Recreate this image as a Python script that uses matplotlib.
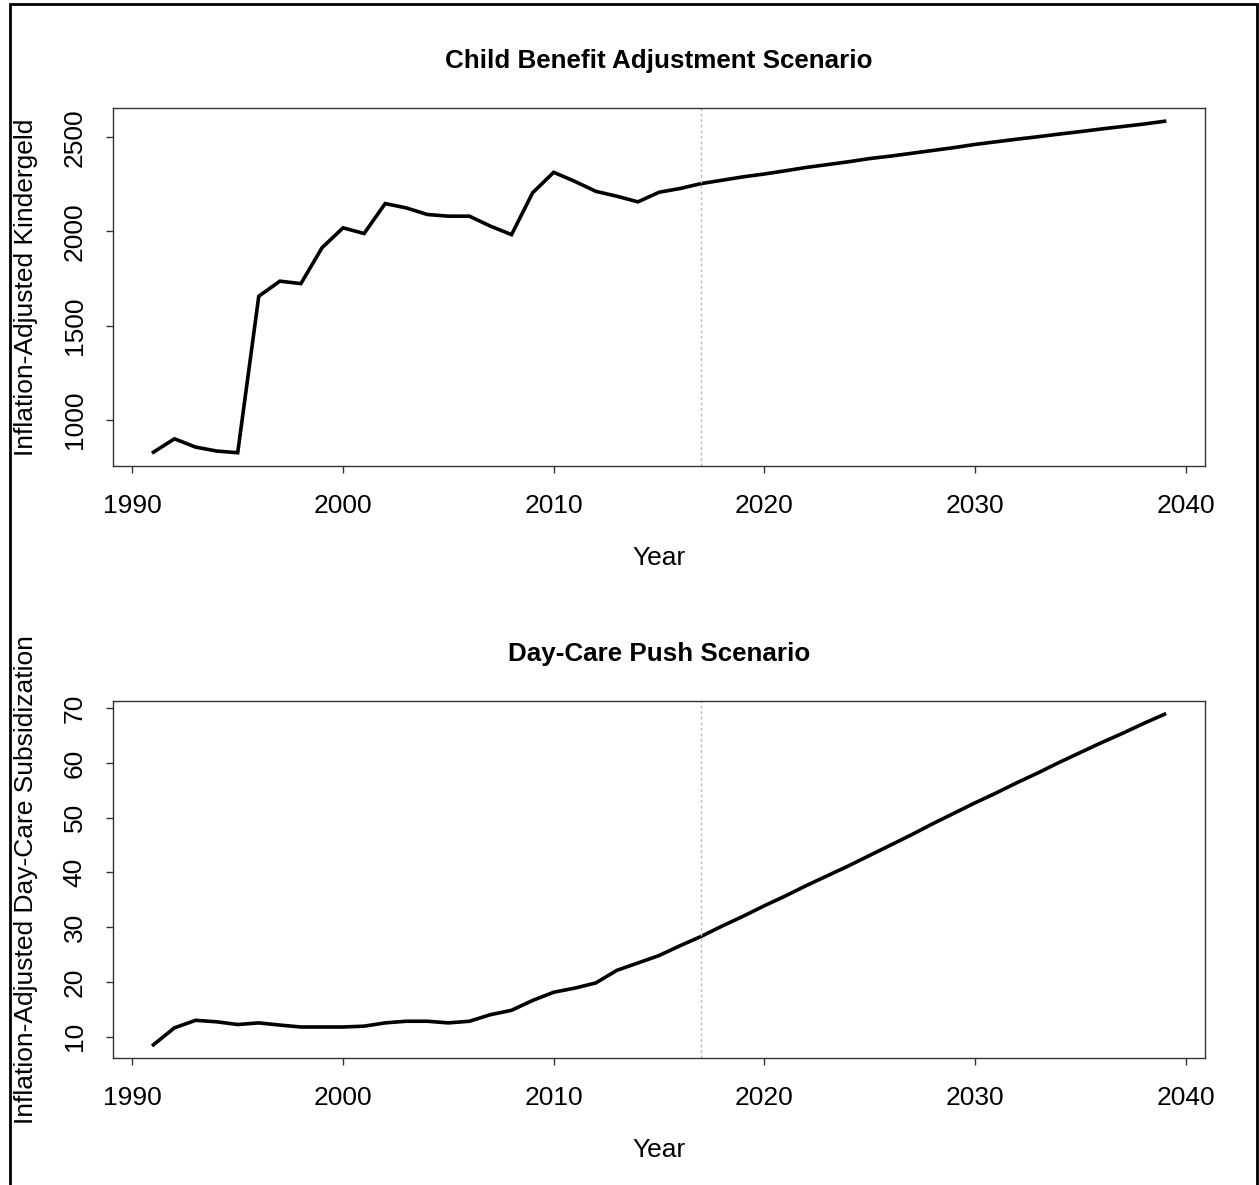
import matplotlib.pyplot as plt
from matplotlib.patches import Rectangle

plt.rcParams['font.family'] = ['Liberation Sans', 'DejaVu Sans']

# years shown in both panels
years = list(range(1991, 2040))
cutoff_year = 2017

# Child benefit (Kindergeld), inflation adjusted
kindergeld = [828, 899, 855, 834, 825, 1656, 1736, 1723, 1913, 2019,
              1989, 2148, 2125, 2090, 2081, 2081, 2028, 1983, 2205, 2314,
              2266, 2213, 2187, 2157, 2208, 2228, 2254, 2272, 2290, 2305,
              2322, 2340, 2355, 2370, 2387, 2400, 2415, 2430, 2445, 2462,
              2476, 2490, 2503, 2517, 2530, 2544, 2557, 2570, 2585]

# Day-care subsidization, inflation adjusted
daycare = [8.5, 11.6, 12.97, 12.7, 12.2, 12.5, 12.1, 11.75, 11.75, 11.75,
           11.9, 12.5, 12.8, 12.8, 12.5, 12.8, 14.0, 14.8, 16.6, 18.1,
           18.85, 19.8, 22.1, 23.45, 24.8, 26.6, 28.3, 30.2, 32.0, 33.9,
           35.7, 37.6, 39.4, 41.2, 43.1, 45.0, 46.9, 48.9, 50.8, 52.7,
           54.5, 56.4, 58.2, 60.1, 61.9, 63.7, 65.4, 67.2, 68.9]

xticks = [1990, 2000, 2010, 2020, 2030, 2040]
yticks_top = [1000, 1500, 2000, 2500]
yticks_bot = [10, 20, 30, 40, 50, 60, 70]

panels = [
    ('Child Benefit Adjustment Scenario', 'Inflation-Adjusted Kindergeld',
     kindergeld, yticks_top, [113/1259, 1 - 466/1185, 1092/1259, 358/1185]),
    ('Day-Care Push Scenario', 'Inflation-Adjusted Day-Care Subsidization',
     daycare, yticks_bot, [113/1259, 1 - 1058/1185, 1092/1259, 357/1185]),
]

fig = plt.figure(figsize=(12.59, 11.85), dpi=100)

for title, ylab, vals, yt, rect in panels:
    ax = fig.add_axes(rect)
    ax.plot(years, vals, color='black', lw=2.6, solid_joinstyle='miter')
    ax.axvline(cutoff_year, color='#bbbbbb', lw=1, ls=(0, (2, 2)))
    pad = (max(vals) - min(vals)) * 0.04
    ax.set_ylim(min(vals) - pad, max(vals) + pad)
    xpad = (max(years) - min(years)) * 0.04
    ax.set_xlim(min(years) - xpad, max(years) + xpad)
    ax.set_xticks(xticks)
    ax.set_yticks(yt)
    ax.set_yticklabels([str(v) for v in yt], rotation=90, va='center')
    ax.tick_params(axis='both', labelsize=19, length=5, width=1, color='#333333')
    ax.tick_params(axis='x', pad=15)
    ax.tick_params(axis='y', pad=14)
    for sp in ax.spines.values():
        sp.set_color('#333333')
        sp.set_linewidth(1)
    ax.set_title(title, fontsize=18.7, fontweight='bold', pad=29)
    ax.set_xlabel('Year', fontsize=19, labelpad=20)
    ax.set_ylabel(ylab, fontsize=19, labelpad=18)

# outer frame around the figure
fig.patches.append(Rectangle((10/1259, -0.01), 1247/1259, 1.01 - 4/1185,
                             transform=fig.transFigure, fill=False,
                             edgecolor='black', lw=2))

plt.savefig('out.png', dpi=100)
plt.close()
